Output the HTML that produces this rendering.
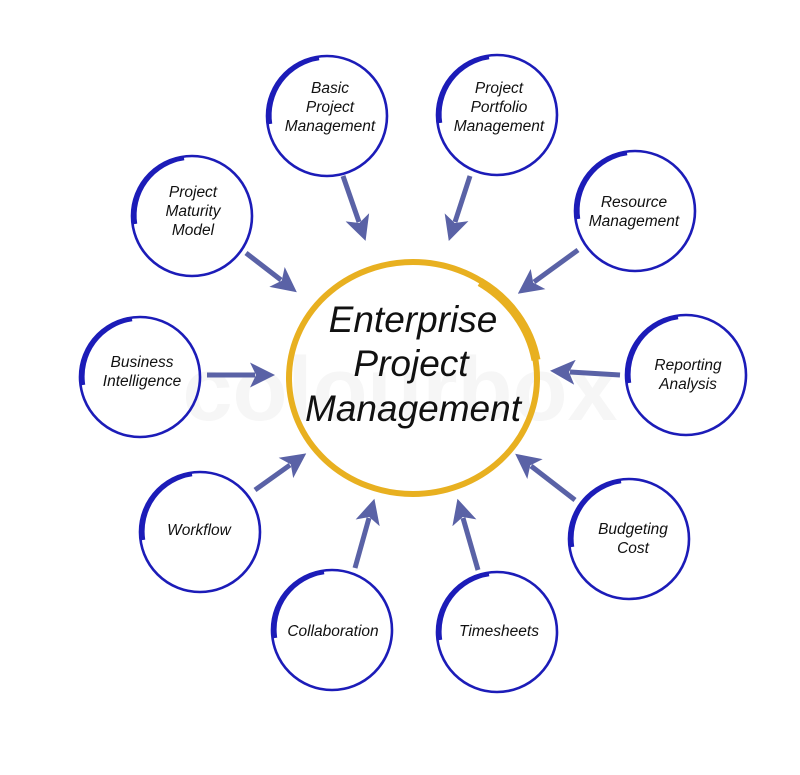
<!DOCTYPE html>
<html><head><meta charset="utf-8"><style>
html,body{margin:0;padding:0;background:#fff;}
svg{display:block;}
text{font-family:"Liberation Sans",sans-serif;font-style:italic;fill:#111;}
.s{font-size:15.5px;}
.b{font-size:37px;}
</style></head><body>
<svg width="800" height="775" viewBox="0 0 800 775">
<defs>
<marker id="ah" markerWidth="5" markerHeight="5" refX="1" refY="2.5" orient="auto" markerUnits="strokeWidth">
<path d="M0,0 L5,2.5 L0,5 L1.2,2.5 z" fill="#5a62a6"/>
</marker>
<g id="c">
<circle r="60" fill="none" stroke="#1c1cb8" stroke-width="2.6"/>
<path d="M-57,8 A58,58 0 0 1 -8,-58" fill="none" stroke="#1c1cb8" stroke-width="4.5"/>
</g>
</defs>
<text x="400" y="420" text-anchor="middle" font-size="90" style="font-style:normal;font-weight:bold;fill:#f6f6f6">colourbox</text>
<ellipse cx="413" cy="378" rx="124" ry="116" fill="none" stroke="#e8b020" stroke-width="6"/>
<path d="M536,360 A124,116 0 0 0 480,282" fill="none" stroke="#e8b020" stroke-width="9"/>
<g stroke="#5a62a6" stroke-width="5" fill="none" marker-end="url(#ah)">
<line x1="343" y1="176" x2="359" y2="222"/>
<line x1="470" y1="176" x2="455" y2="222"/>
<line x1="578" y1="250" x2="534" y2="282"/>
<line x1="620" y1="375" x2="570" y2="372"/>
<line x1="575" y1="500" x2="531" y2="466"/>
<line x1="478" y1="570" x2="463" y2="518"/>
<line x1="355" y1="568" x2="369" y2="518"/>
<line x1="255" y1="490" x2="290" y2="465"/>
<line x1="207" y1="375" x2="255" y2="375"/>
<line x1="246" y1="253" x2="281" y2="280"/>
</g>
<use href="#c" x="327" y="116"/>
<use href="#c" x="497" y="115"/>
<use href="#c" x="635" y="211"/>
<use href="#c" x="686" y="375"/>
<use href="#c" x="629" y="539"/>
<use href="#c" x="497" y="632"/>
<use href="#c" x="332" y="630"/>
<use href="#c" x="200" y="532"/>
<use href="#c" x="140" y="377"/>
<use href="#c" x="192" y="216"/>
<g class="s" text-anchor="middle">
<text x="330" y="93">Basic</text><text x="330" y="112">Project</text><text x="330" y="131">Management</text>
<text x="499" y="93">Project</text><text x="499" y="112">Portfolio</text><text x="499" y="131">Management</text>
<text x="634" y="207">Resource</text><text x="634" y="226">Management</text>
<text x="688" y="370">Reporting</text><text x="688" y="389">Analysis</text>
<text x="633" y="534">Budgeting</text><text x="633" y="553">Cost</text>
<text x="499" y="636">Timesheets</text>
<text x="333" y="636">Collaboration</text>
<text x="199" y="535">Workflow</text>
<text x="142" y="367">Business</text><text x="142" y="386">Intelligence</text>
<text x="193" y="197">Project</text><text x="193" y="216">Maturity</text><text x="193" y="235">Model</text>
</g>
<g class="b" text-anchor="middle">
<text x="413" y="332">Enterprise</text>
<text x="411" y="376">Project</text>
<text x="413" y="421">Management</text>
</g>
</svg>
</body></html>
